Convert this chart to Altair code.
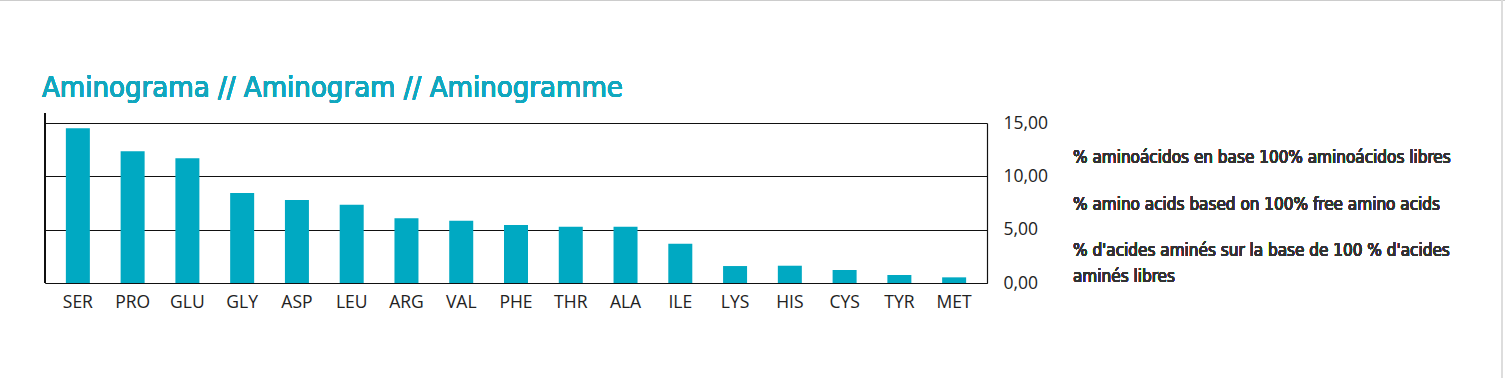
import altair as alt
import pandas as pd

categories = ["SER", "PRO", "GLU", "GLY", "ASP", "LEU", "ARG", "VAL", "PHE",
              "THR", "ALA", "ILE", "LYS", "HIS", "CYS", "TYR", "MET"]
values = [14.50, 12.35, 11.69, 8.44, 7.78, 7.34, 6.06, 5.84, 5.44,
          5.28, 5.27, 3.69, 1.59, 1.62, 1.22, 0.75, 0.53]
y_ticks = [0, 5, 10, 15]
title_text = "Aminograma // Aminogram // Aminogramme"
note_lines = [
    "% aminoácidos en base 100% aminoácidos libres",
    "% amino acids based on 100% free amino acids",
    "% d'acides aminés sur la base de 100 % d'acides",
    "aminés libres",
]

W, H = 942, 160
BAR = "#00A9C2"
TEAL = "#12A7BE"
DARK = "#222222"
COND = "'DejaVu Sans Condensed', Roboto, sans-serif"

df = pd.DataFrame({"aa": categories, "val": values})

x = alt.X("aa:N", sort=categories,
          scale=alt.Scale(paddingInner=0.56, paddingOuter=0.38),
          axis=alt.Axis(title=None, labelAngle=0, labelFont="Open Sans",
                        labelFontSize=17.5, labelColor=DARK, labelPadding=10,
                        ticks=False, domain=True, domainColor="#111",
                        domainWidth=1.2))
y = alt.Y("val:Q", scale=alt.Scale(domain=[0, 15], nice=False),
          axis=alt.Axis(title=None, orient="right", values=y_ticks,
                        labelExpr="replace(format(datum.value, '.2f'), '.', ',')",
                        labelFont="Open Sans", labelFontSize=17.5,
                        labelColor=DARK, labelPadding=16, ticks=False,
                        domain=True, domainColor="#111", domainWidth=1.2,
                        grid=True, gridColor="#111", gridWidth=1.1))

bars = alt.Chart(df).mark_bar(color=BAR, size=24).encode(x=x, y=y)

left_line = alt.Chart(df).mark_rule(color="#111", strokeWidth=1.2).encode(
    x=alt.value(0), y=alt.value(-10), y2=alt.value(H))

title = alt.Chart(df).mark_text(
    text=title_text, align="left", baseline="alphabetic", font=COND,
    fontSize=29, color=TEAL).encode(x=alt.value(-3), y=alt.value(-26))

note_y = [40, 87, 133, 159]
notes = [alt.Chart(df).mark_text(
    text=t, align="left", baseline="alphabetic", font=COND,
    fontSize=17, color="#333333").encode(x=alt.value(W + 86), y=alt.value(yy))
    for t, yy in zip(note_lines, note_y)]

border_top = alt.Chart(df).mark_rule(color="#cccccc", strokeWidth=2).encode(
    x=alt.value(-45), x2=alt.value(1505 - 45), y=alt.value(-123), y2=alt.value(-123))
border_right = alt.Chart(df).mark_rule(color="#dddddd", strokeWidth=1.5).encode(
    x=alt.value(1502 - 45), y=alt.value(-123), y2=alt.value(378 - 123))

chart = alt.layer(bars, left_line, title, *notes, border_top, border_right).properties(
    width=W, height=H,
    autosize=alt.AutoSizeParams(type="none"),
    padding={"left": 45, "top": 123, "right": 1505 - 45 - W, "bottom": 378 - 123 - H},
    background="white",
).configure_view(stroke=None)

chart.save("out.html", embed_options={"renderer": "svg", "actions": False})
